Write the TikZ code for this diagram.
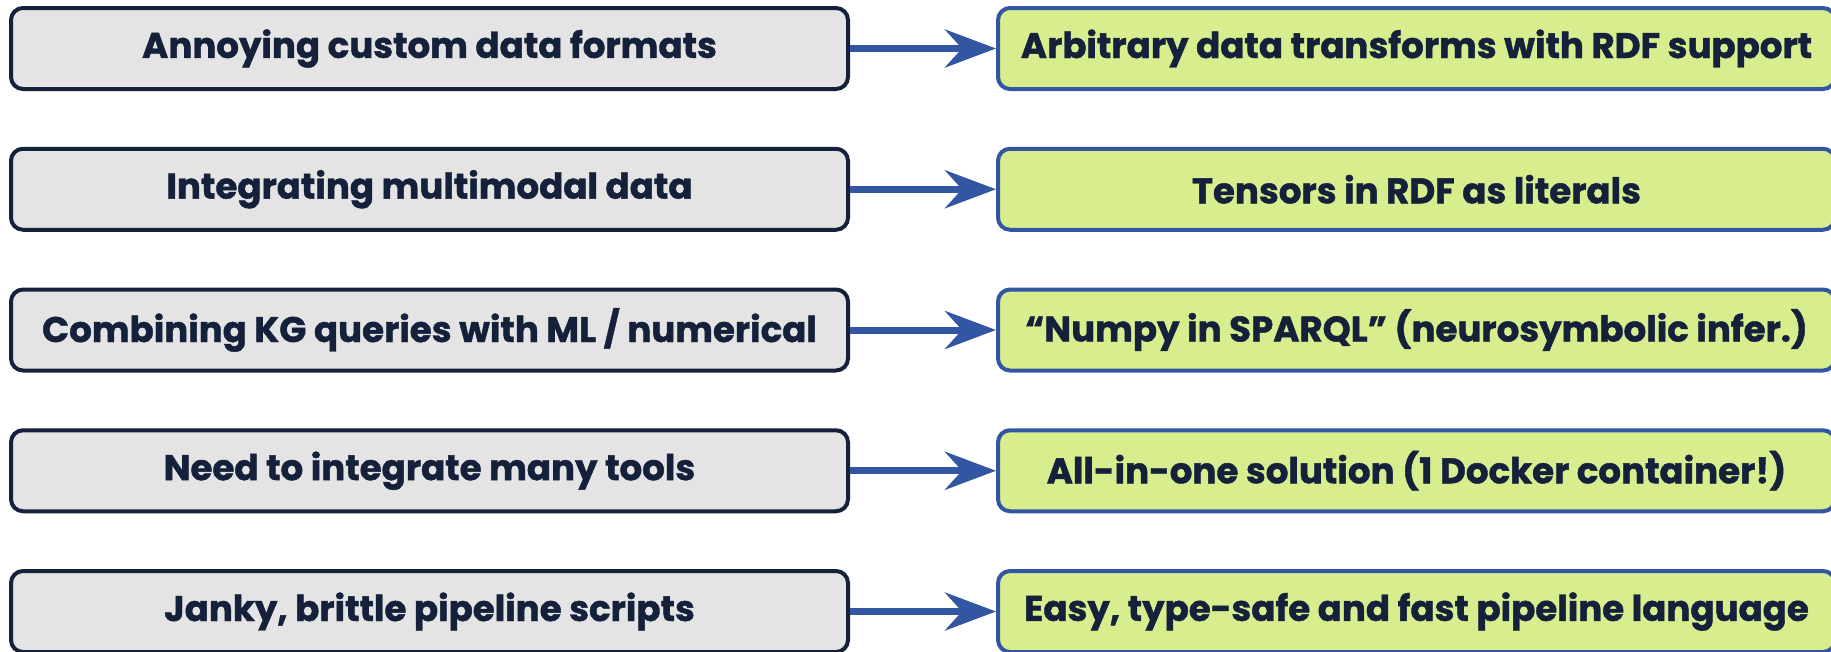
\documentclass[tikz,border=0pt]{standalone}
\usepackage{fontspec}
\setmainfont{Poppins}[BoldFeatures={FakeBold=1.2}]
\usetikzlibrary{arrows.meta}
\definecolor{navy}{HTML}{15213B}
\definecolor{leftfill}{HTML}{E4E4E4}
\definecolor{rightfill}{HTML}{D8ED8D}
\definecolor{blueedge}{HTML}{3356A3}
\tikzset{
  boxbase/.style={rounded corners=12pt, line width=4pt, minimum width=837pt, minimum height=81pt,
    inner sep=0pt, text=navy, font=\fontsize{35.6}{40}\selectfont\bfseries, anchor=center},
  problem/.style={boxbase, draw=navy, fill=leftfill},
  solution/.style={boxbase, draw=blueedge, fill=rightfill},
  conn/.style={draw=blueedge, line width=7pt, -{Stealth[length=51pt, width=38pt, inset=17pt]}}
}
\begin{document}
\begin{tikzpicture}[x=1pt, y=-1pt]
\useasboundingbox (0,0) rectangle (1831,651);
\node[problem] (l1) at (429.5, 48.5) {Annoying custom data formats};
\node[problem] (l2) at (429.5, 189.25) {Integrating multimodal data};
\node[problem] (l3) at (429.5, 330) {Combining KG queries with ML / numerical};
\node[problem] (l4) at (429.5, 470.75) {Need to integrate many tools};
\node[problem] (l5) at (429.5, 611.5) {Janky, brittle pipeline scripts};
\node[solution] (r1) at (1416.5, 48.5) {Arbitrary data transforms with RDF support};
\node[solution] (r2) at (1416.5, 189.25) {Tensors in RDF as literals};
\node[solution] (r3) at (1416.5, 330) {“Numpy in SPARQL” (neurosymbolic infer.)};
\node[solution] (r4) at (1416.5, 470.75) {All-in-one solution (1 Docker container!)};
\node[solution] (r5) at (1416.5, 611.5) {Easy, type-safe and fast pipeline language};
\foreach \i in {1,...,5} { \draw[conn] (l\i.east) -- (r\i.west); }
\end{tikzpicture}
\end{document}
